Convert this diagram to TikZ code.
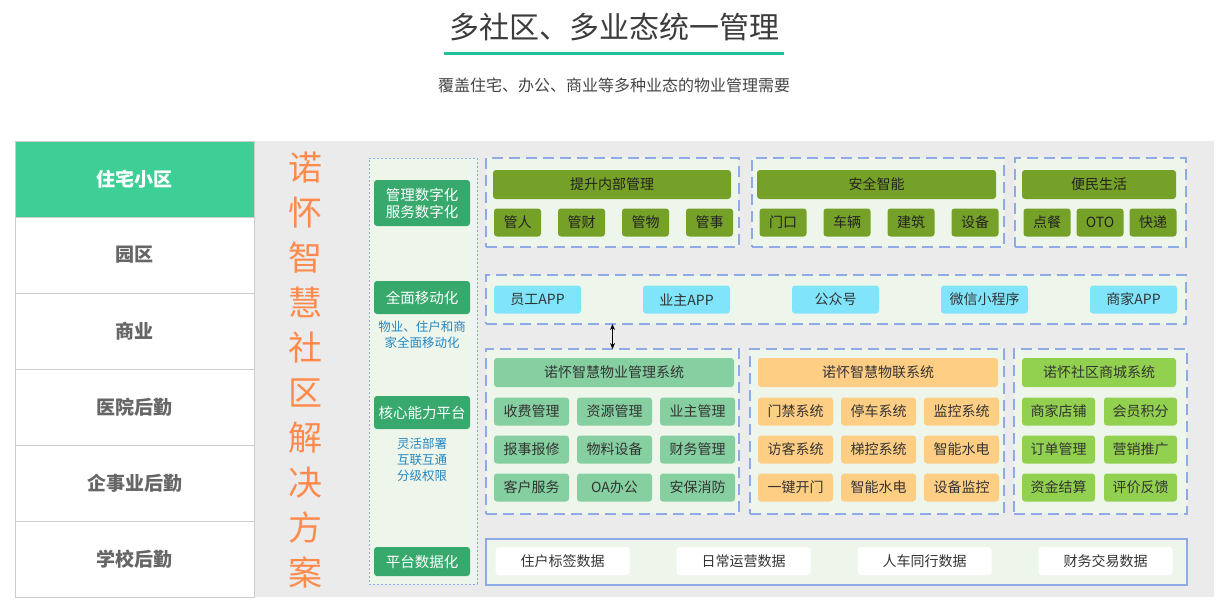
\documentclass[tikz,border=0pt]{standalone}
\usepackage{fontspec}
\setmainfont{Noto Sans CJK SC}
\usetikzlibrary{arrows.meta, positioning}
\definecolor{nhteal}{HTML}{22C09B}
\definecolor{nhtitle}{HTML}{3C3C3C}
\definecolor{nhsub}{HTML}{444444}
\definecolor{nhrule}{HTML}{CCCCCC}
\definecolor{nhdark}{HTML}{666666}
\definecolor{nhmint}{HTML}{3ECF96}
\definecolor{nhgreen}{HTML}{38A96D}
\definecolor{nholive}{HTML}{76A128}
\definecolor{nhsage}{HTML}{86CFA0}
\definecolor{nhpeach}{HTML}{FFCE85}
\definecolor{nhlime}{HTML}{92D14F}
\definecolor{nhcyan}{HTML}{80E5FB}
\definecolor{nhpale}{HTML}{EEF6EC}
\definecolor{nhgray}{HTML}{EBEBEB}
\definecolor{nhline}{HTML}{8FAAE5}
\definecolor{nhorange}{HTML}{FF8A4C}
\definecolor{nhblue}{HTML}{2487C2}
\definecolor{nhtext}{HTML}{333333}
\definecolor{nhink}{HTML}{222222}

\begin{document}
\begin{tikzpicture}[x=1pt, y=-1pt,
    every node/.style={inner sep=0pt, outer sep=0pt},
    groupbox/.style={rectangle, draw=nhline, fill=nhpale, line width=1.6pt,
                     dash pattern=on 11pt off 6pt},
    sector/.style={rectangle, draw=nhrule, fill=white, line width=0.8pt,
                   minimum width=239pt, minimum height=76pt, text=nhdark,
                   font=\fontsize{19}{22}\selectfont\bfseries},
    pill/.style={rectangle, rounded corners=3pt, fill=nhgreen, text=white,
                 minimum width=96pt, align=center,
                 font=\fontsize{14.5}{17}\selectfont},
    hint/.style={text=nhblue, align=center, font=\fontsize{12.5}{16}\selectfont},
    tile/.style={rectangle, rounded corners=3pt, fill=#1, text=nhtext,
                 minimum height=28pt, font=\fontsize{14}{17}\selectfont},
    olive/.style={tile=nholive, text=nhink},
    dbl/.style={{Stealth[length=6pt,width=5pt]}-{Stealth[length=6pt,width=5pt]},
                line width=1pt, black}
  ]
  \useasboundingbox (0,0) rectangle (1219,605);

  % heading
  \node[font=\fontsize{30}{34}\selectfont, text=nhtitle] (title) at (614,27) {多社区、多业态统一管理};
  \draw[nhteal, line width=2.5pt] (444,53.5) -- (784,53.5);
  \node[font=\fontsize{16}{19}\selectfont, text=nhsub] (subtitle) at (614,85.5) {覆盖住宅、办公、商业等多种业态的物业管理需要};

  \fill[nhgray] (254,141) rectangle (1214,597);

  % business types
  \node[sector, fill=nhmint, text=white] (s1) at (134.5,179) {住宅小区};
  \node[sector, below=0pt of s1] (s2) {园区};
  \node[sector, below=0pt of s2] (s3) {商业};
  \node[sector, below=0pt of s3] (s4) {医院后勤};
  \node[sector, below=0pt of s4] (s5) {企事业后勤};
  \node[sector, below=0pt of s5] (s6) {学校后勤};

  \node[text=nhorange, align=center, font=\fontsize{34}{45}\selectfont] (slogan) at (305,370)
    {诺\\怀\\智\\慧\\社\\区\\解\\决\\方\\案};

  % capability lane
  \node[rectangle, draw=nhline, fill=nhpale, line width=0.9pt, dash pattern=on 2pt off 2pt,
        minimum width=108pt, minimum height=426pt] (lane) at (423,371) {};
  \node[pill, minimum height=46pt] (p1) at (422,203) {管理数字化\\服务数字化};
  \node[pill, minimum height=33pt] (p2) at (422,297.5) {全面移动化};
  \node[hint] (h1) at (422,335) {物业、住户和商\\家全面移动化};
  \node[pill, minimum height=33pt] (p3) at (422,412.5) {核心能力平台};
  \node[hint] (h2) at (422,460) {灵活部署\\互联互通\\分级权限};
  \node[pill, minimum height=29pt] (p4) at (422,561.5) {平台数据化};

  % management
  \node[groupbox, minimum width=253pt, minimum height=89pt] (gin) at (612.5,202.5) {};
  \node[olive, minimum width=238pt, minimum height=29pt] (hin) at (612,184.5) {提升内部管理};
  \node[olive, minimum width=47pt] (in1) at (517.5,222.5) {管人};
  \node[olive, minimum width=47pt, right=17pt of in1] (in2) {管财};
  \node[olive, minimum width=47pt, right=17pt of in2] (in3) {管物};
  \node[olive, minimum width=47pt, right=17pt of in3] (in4) {管事};

  \node[groupbox, minimum width=252pt, minimum height=89pt] (gsafe) at (878,202.5) {};
  \node[olive, minimum width=239pt, minimum height=29pt] (hsafe) at (876.5,184.5) {安全智能};
  \node[olive, minimum width=47pt] (sf1) at (783,222.5) {门口};
  \node[olive, minimum width=47pt, right=17pt of sf1] (sf2) {车辆};
  \node[olive, minimum width=47pt, right=17pt of sf2] (sf3) {建筑};
  \node[olive, minimum width=47pt, right=17pt of sf3] (sf4) {设备};

  \node[groupbox, minimum width=171pt, minimum height=89pt] (glife) at (1100.5,202.5) {};
  \node[olive, minimum width=154pt, minimum height=29pt] (hlife) at (1099,184.5) {便民生活};
  \node[olive, minimum width=47pt] (lf1) at (1047,222.5) {点餐};
  \node[olive, minimum width=47pt, right=6pt of lf1] (lf2) {OTO};
  \node[olive, minimum width=47pt, right=6pt of lf2] (lf3) {快递};

  % mobile
  \node[groupbox, minimum width=700pt, minimum height=49pt] (gapp) at (836,299.5) {};
  \node[tile=nhcyan, minimum width=87pt] (a1) at (537.5,299.5) {员工APP};
  \node[tile=nhcyan, minimum width=87pt, right=62pt of a1] (a2) {业主APP};
  \node[tile=nhcyan, minimum width=87pt, right=62pt of a2] (a3) {公众号};
  \node[tile=nhcyan, minimum width=87pt, right=62pt of a3] (a4) {微信小程序};
  \node[tile=nhcyan, minimum width=87pt, right=62pt of a4] (a5) {商家APP};

  % core systems
  \node[groupbox, minimum width=253pt, minimum height=165pt] (gpm) at (612.5,431.5) {};
  \node[tile=nhsage, minimum width=240pt, minimum height=29pt] (hpm) at (614,372.5) {诺怀智慧物业管理系统};
  \node[tile=nhsage, minimum width=75pt] (pm1) at (531.5,411.5) {收费管理};
  \node[tile=nhsage, minimum width=75pt, right=8pt of pm1] (pm2) {资源管理};
  \node[tile=nhsage, minimum width=75pt, right=8pt of pm2] (pm3) {业主管理};
  \node[tile=nhsage, minimum width=75pt, below=10pt of pm1] (pm4) {报事报修};
  \node[tile=nhsage, minimum width=75pt, right=8pt of pm4] (pm5) {物料设备};
  \node[tile=nhsage, minimum width=75pt, right=8pt of pm5] (pm6) {财务管理};
  \node[tile=nhsage, minimum width=75pt, below=10pt of pm4] (pm7) {客户服务};
  \node[tile=nhsage, minimum width=75pt, right=8pt of pm7] (pm8) {OA办公};
  \node[tile=nhsage, minimum width=75pt, right=8pt of pm8] (pm9) {安保消防};

  \node[groupbox, minimum width=254pt, minimum height=165pt] (giot) at (877,431.5) {};
  \node[tile=nhpeach, minimum width=240pt, minimum height=29pt] (hiot) at (878,372.5) {诺怀智慧物联系统};
  \node[tile=nhpeach, minimum width=75pt] (io1) at (795.5,411.5) {门禁系统};
  \node[tile=nhpeach, minimum width=75pt, right=8pt of io1] (io2) {停车系统};
  \node[tile=nhpeach, minimum width=75pt, right=8pt of io2] (io3) {监控系统};
  \node[tile=nhpeach, minimum width=75pt, below=10pt of io1] (io4) {访客系统};
  \node[tile=nhpeach, minimum width=75pt, right=8pt of io4] (io5) {梯控系统};
  \node[tile=nhpeach, minimum width=75pt, right=8pt of io5] (io6) {智能水电};
  \node[tile=nhpeach, minimum width=75pt, below=10pt of io4] (io7) {一键开门};
  \node[tile=nhpeach, minimum width=75pt, right=8pt of io7] (io8) {智能水电};
  \node[tile=nhpeach, minimum width=75pt, right=8pt of io8] (io9) {设备监控};

  \node[groupbox, minimum width=173pt, minimum height=165pt] (gmall) at (1100.5,431.5) {};
  \node[tile=nhlime, minimum width=154pt, minimum height=29pt] (hmall) at (1099,372.5) {诺怀社区商城系统};
  \node[tile=nhlime, minimum width=73pt] (ml1) at (1058.5,411.5) {商家店铺};
  \node[tile=nhlime, minimum width=73pt, right=9pt of ml1] (ml2) {会员积分};
  \node[tile=nhlime, minimum width=73pt, below=10pt of ml1] (ml3) {订单管理};
  \node[tile=nhlime, minimum width=73pt, right=9pt of ml3] (ml4) {营销推广};
  \node[tile=nhlime, minimum width=73pt, below=10pt of ml3] (ml5) {资金结算};
  \node[tile=nhlime, minimum width=73pt, right=9pt of ml5] (ml6) {评价反馈};

  \draw[dbl] (gapp.south -| gpm.north) -- (gpm.north);

  % data
  \node[rectangle, draw=nhline, fill=nhpale, line width=1.2pt,
        minimum width=701pt, minimum height=46pt] (gdata) at (836.5,562) {};
  \node[tile=white, minimum width=134pt] (d1) at (562.5,561) {住户标签数据};
  \node[tile=white, minimum width=134pt, right=47pt of d1] (d2) {日常运营数据};
  \node[tile=white, minimum width=134pt, right=47pt of d2] (d3) {人车同行数据};
  \node[tile=white, minimum width=134pt, right=47pt of d3] (d4) {财务交易数据};
\end{tikzpicture}
\end{document}
